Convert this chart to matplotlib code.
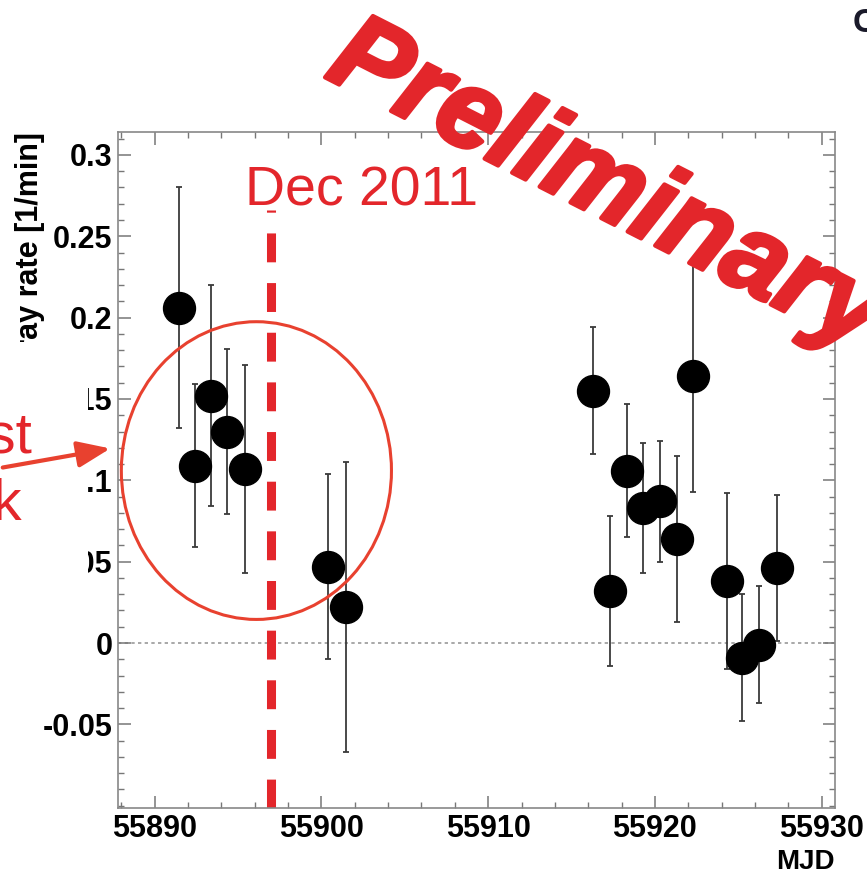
import matplotlib
matplotlib.use("Agg")
import matplotlib.pyplot as plt
import matplotlib.patheffects as pe
from matplotlib.patches import Ellipse, FancyArrowPatch, Rectangle

# data
mjd = [55891.45, 55892.4, 55893.35, 55894.35, 55895.4, 55900.4, 55901.45,
       55916.3, 55917.3, 55918.3, 55919.3, 55920.3, 55921.3, 55922.3,
       55924.3, 55925.25, 55926.25, 55927.3]
rate = [0.206, 0.109, 0.152, 0.130, 0.107, 0.047, 0.022,
        0.155, 0.032, 0.106, 0.083, 0.087, 0.064, 0.164,
        0.038, -0.009, -0.001, 0.046]
rate_err = [0.074, 0.050, 0.068, 0.051, 0.064, 0.057, 0.089,
            0.039, 0.046, 0.041, 0.040, 0.037, 0.051, 0.071,
            0.054, 0.039, 0.036, 0.045]
x_ticks = [55890, 55900, 55910, 55920, 55930]
y_ticks = [-0.05, 0, 0.05, 0.1, 0.15, 0.2, 0.25, 0.3]
y_tick_labels = ["-0.05", "0", "0.05", "0.1", "0.15", "0.2", "0.25", "0.3"]
dec_2011 = 55897.0

RED = "#e3262b"
W, H = 867, 883

plt.rcParams["font.family"] = ["Liberation Sans", "DejaVu Sans"]

fig = plt.figure(figsize=(W / 100, H / 100), dpi=100)
ax = fig.add_axes([118 / W, 1 - 808 / H, (835 - 118) / W, (808 - 132) / H])

ax.errorbar(mjd, rate, yerr=rate_err, fmt="none", ecolor="#3a3a3a",
            elinewidth=1.3, capsize=2.5, capthick=1.3, zorder=3)
ax.plot(mjd, rate, "o", color="black", markersize=23, zorder=4)

ax.axhline(0, color="#999999", lw=1.2, ls=(0, (2, 2)), zorder=1)
ax.axvline(dec_2011, ymin=0, ymax=0.885, color=RED, lw=6.5,
           dashes=(3.2, 2.3), zorder=2)

ax.add_patch(Ellipse((55896.1, 0.106), 16.2, 0.183, fill=False,
                     edgecolor="#e8412f", lw=2.2, zorder=5))

ax.set_xlim(55887.8, 55930.8)
ax.set_ylim(-0.1014, 0.3141)
ax.set_xticks(x_ticks)
ax.set_xticks([x for x in range(55888, 55931, 2)], minor=True)
ax.set_yticks(y_ticks)
ax.set_yticklabels(y_tick_labels)
ax.set_yticks([i / 100 for i in range(-10, 32)], minor=True)

ax.tick_params(which="both", direction="in", top=True, right=True,
               color="#777777", labelsize=22, pad=4)
ax.tick_params(which="major", length=9, width=1.1)
ax.tick_params(which="minor", length=4.5, width=1.0)
for lab in ax.get_xticklabels() + ax.get_yticklabels():
    lab.set_fontweight("bold")
for sp in ax.spines.values():
    sp.set_color("#888888")
    sp.set_linewidth(1.2)

fig.text(835 / W, 1 - 862 / H, "MJD", ha="right", va="center",
         fontsize=20, fontweight="bold")
fig.text(30 / W, 1 - 132 / H, "Gamma-ray rate [1/min]", rotation=90,
         ha="center", va="top", fontsize=22, fontweight="bold")

# white patch hiding part of the left labels
fig.patches.append(Rectangle((0, 1 - 580 / H), 88 / W, 238 / H,
                             transform=fig.transFigure, facecolor="white",
                             edgecolor="none", zorder=10))

fig.text(32 / W, 1 - 453 / H, "Highest", ha="right", va="baseline",
         fontsize=42, color=RED, zorder=11)
fig.text(22 / W, 1 - 520 / H, "peak", ha="right", va="baseline",
         fontsize=42, color=RED, zorder=11)
fig.patches.append(FancyArrowPatch(
    (0, 1 - 468 / H), (113 / W, 1 - 448 / H), transform=fig.transFigure,
    arrowstyle="-|>,head_length=20,head_width=8", mutation_scale=1,
    color="#e8412f", lw=3, zorder=11))

fig.text(245 / W, 1 - 205 / H, "Dec 2011", ha="left", va="baseline",
         fontsize=40, color=RED)

fig.text(606 / W, 1 - 188 / H, "Preliminary", ha="center", va="center",
         rotation=-27, rotation_mode="anchor", fontsize=80, color=RED,
         fontweight="bold", fontstyle="italic",
         path_effects=[pe.withStroke(linewidth=3, foreground=RED)])

fig.text(853 / W, 1 - 24 / H, "C", ha="left", va="center", fontsize=24,
         fontweight="bold", color="#1a1a2a")

fig.savefig("out.png", dpi=100)
